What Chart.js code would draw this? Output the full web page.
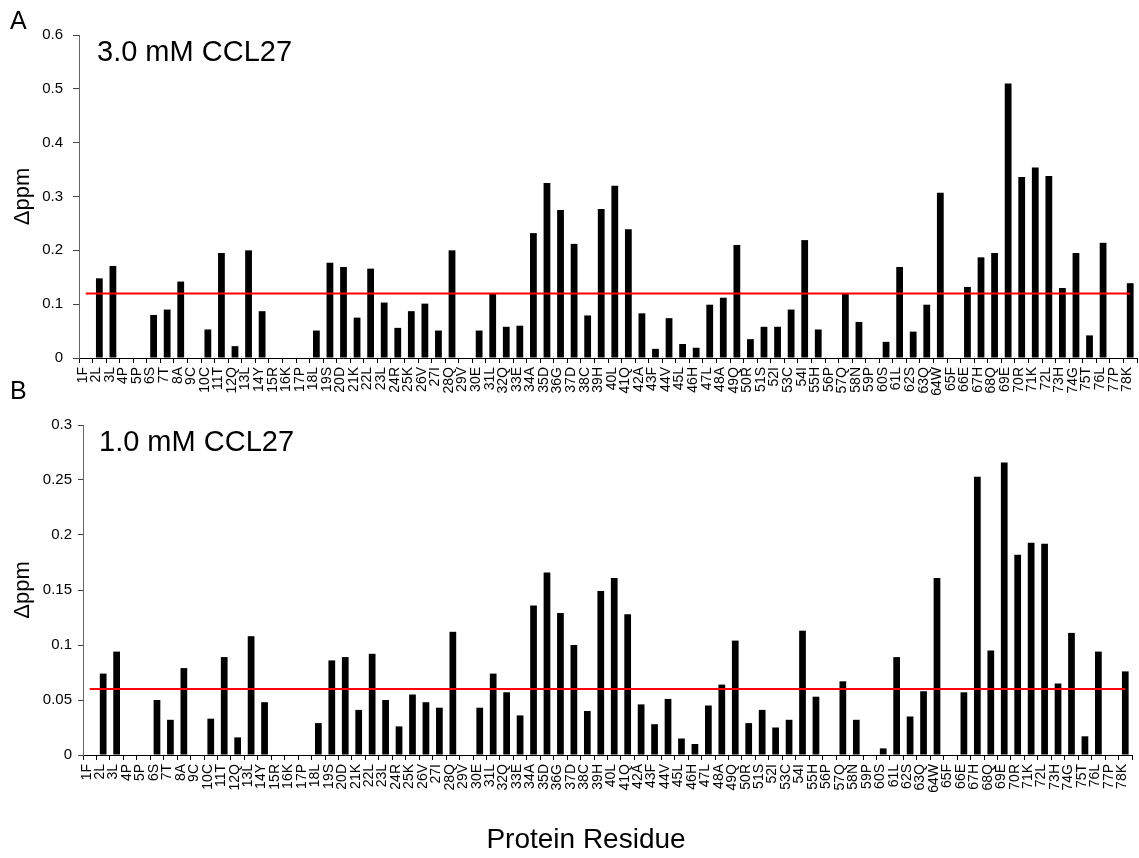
<!DOCTYPE html>
<html><head><meta charset="utf-8">
<script src="https://cdn.jsdelivr.net/npm/chart.js@4.4.1/dist/chart.umd.min.js"></script>
<style>
html,body{margin:0;padding:0;background:#fff;}
#wrap{position:relative;width:1139px;height:858px;overflow:hidden;background:#fff;}
canvas{position:absolute;left:0;}
</style></head><body>
<div id="wrap">
<canvas id="cA" width="1139" height="410" style="top:0"></canvas>
<canvas id="cB" width="1139" height="488" style="top:370px"></canvas>
</div>
<script>
const residues = ['1F','2L','3L','4P','5P','6S','7T','8A','9C','10C','11T','12Q','13L','14Y','15R','16K','17P','18L','19S','20D','21K','22L','23L','24R','25K','26V','27I','28Q','29V','30E','31L','32Q','33E','34A','35D','36G','37D','38C','39H','40L','41Q','42A','43F','44V','45L','46H','47L','48A','49Q','50R','51S','52I','53C','54I','55H','56P','57Q','58N','59P','60S','61L','62S','63Q','64W','65F','66E','67H','68Q','69E','70R','71K','72L','73H','74G','75T','76L','77P','78K'];

const shift3mM = [null,0.148,0.171,null,null,0.080,0.090,0.142,null,0.053,0.195,0.022,0.200,0.087,null,null,null,0.051,0.177,0.169,0.075,0.166,0.103,0.056,0.087,0.101,0.051,0.200,null,0.051,0.119,0.058,0.060,0.232,0.325,0.275,0.212,0.079,0.277,0.320,0.239,0.083,0.017,0.074,0.026,0.019,0.099,0.112,0.210,0.035,0.058,0.058,0.090,0.219,0.053,null,0.119,0.067,null,0.030,0.169,0.049,0.099,0.307,null,0.132,0.187,0.195,0.510,0.336,0.354,0.338,0.130,0.195,0.042,0.214,null,0.139];

const shift1mM = [null,0.074,0.094,null,null,0.050,0.032,0.079,null,0.033,0.089,0.016,0.108,0.048,null,null,null,0.029,0.086,0.089,0.041,0.092,0.050,0.026,0.055,0.048,0.043,0.112,null,0.043,0.074,0.057,0.036,0.136,0.166,0.129,0.100,0.040,0.149,0.161,0.128,0.046,0.028,0.051,0.015,0.010,0.045,0.064,0.104,0.029,0.041,0.025,0.032,0.113,0.053,null,0.067,0.032,null,0.006,0.089,0.035,0.058,0.161,null,0.057,0.253,0.095,0.266,0.182,0.193,0.192,0.065,0.111,0.017,0.094,null,0.076];

const threshold3mM = 0.12;
const threshold1mM = 0.06;
const yTicks3mM = [0,0.1,0.2,0.3,0.4,0.5,0.6];
const yTicks1mM = [0,0.05,0.1,0.15,0.2,0.25,0.3];
const panelA = 'A', panelB = 'B';
const title3mM = '3.0 mM CCL27';
const title1mM = '1.0 mM CCL27';
const yTitle = 'Δppm';
const xTitle = 'Protein Residue';

const FONT = "'Liberation Sans', Arial, Helvetica, sans-serif";
Chart.defaults.font.family = FONT;
Chart.defaults.color = '#000';

function textPlugin(items){
  return {
    id:'texts',
    afterDraw(chart){
      const ctx = chart.ctx;
      ctx.save();
      ctx.fillStyle = '#000';
      ctx.textBaseline = 'alphabetic';
      items.forEach(it=>{
        ctx.font = it.size + 'px ' + FONT;
        ctx.textAlign = it.align || 'left';
        ctx.fillText(it.text, it.x, it.y);
      });
      ctx.restore();
    }
  };
}

function makeChart(id, values, threshold, ticks, opt){
  const max = ticks[ticks.length-1];
  return new Chart(document.getElementById(id), {
    data: {
      labels: residues,
      datasets: [
        {type:'line', data: residues.map(()=>threshold), borderColor:'#ff0000', borderWidth:2,
         pointRadius:0, fill:false, order:0},
        {type:'bar', data: values, backgroundColor:'#000', borderWidth:0,
         barPercentage:0.5, categoryPercentage:1.0, order:1}
      ]
    },
    options: {
      responsive:false, animation:false, devicePixelRatio:1,
      layout:{padding:{left:0, top:opt.top, right:opt.right, bottom:0}},
      plugins:{legend:{display:false}, tooltip:{enabled:false}},
      scales:{
        x:{
          type:'category', offset:true,
          grid:{display:true, offset:true, drawOnChartArea:false, drawTicks:true, tickLength:5, color:'#000', lineWidth:1},
          border:{display:true, color:'#000', width:1},
          ticks:{autoSkip:false, minRotation:90, maxRotation:90, padding:4, labelOffset:-3,
                 font:{size:14, family:FONT}, color:'#000'},
          afterFit(s){ s.height = opt.xHeight; s.paddingLeft = 0; s.paddingRight = 0; }
        },
        y:{
          min:0, max:max,
          afterBuildTicks(s){ s.ticks = ticks.map(v=>({value:v})); },
          grid:{display:true, drawOnChartArea:false, drawTicks:true, tickLength:opt.tickLen, color:'#444', lineWidth:1},
          border:{display:true, color:'#666', width:1},
          ticks:{padding:opt.tickPad, font:{size:15, family:FONT}, color:'#000',
                 callback:(v)=>String(Number(Number(v).toFixed(3)))},
          title:{display:true, text:yTitle, font:{size:22, family:FONT}, color:'#000', padding:{top:10,bottom:0}},
          afterFit(s){ s.width = opt.yWidth; }
        }
      }
    },
    plugins:[textPlugin(opt.texts)]
  });
}

makeChart('cA', shift3mM, threshold3mM, yTicks3mM, {
  top:35, right:2, xHeight:52, yWidth:79, tickLen:6, tickPad:10,
  texts:[{text:panelA, x:10, y:29, size:25},{text:title3mM, x:97, y:61, size:29}]
});
makeChart('cB', shift1mM, threshold1mM, yTicks1mM, {
  top:55, right:7, xHeight:103, yWidth:83, tickLen:5, tickPad:6,
  texts:[{text:panelB, x:10, y:29, size:25},{text:title1mM, x:99, y:81, size:29},
         {text:xTitle, x:586, y:478, size:28, align:'center'}]
});
</script>
</body></html>
